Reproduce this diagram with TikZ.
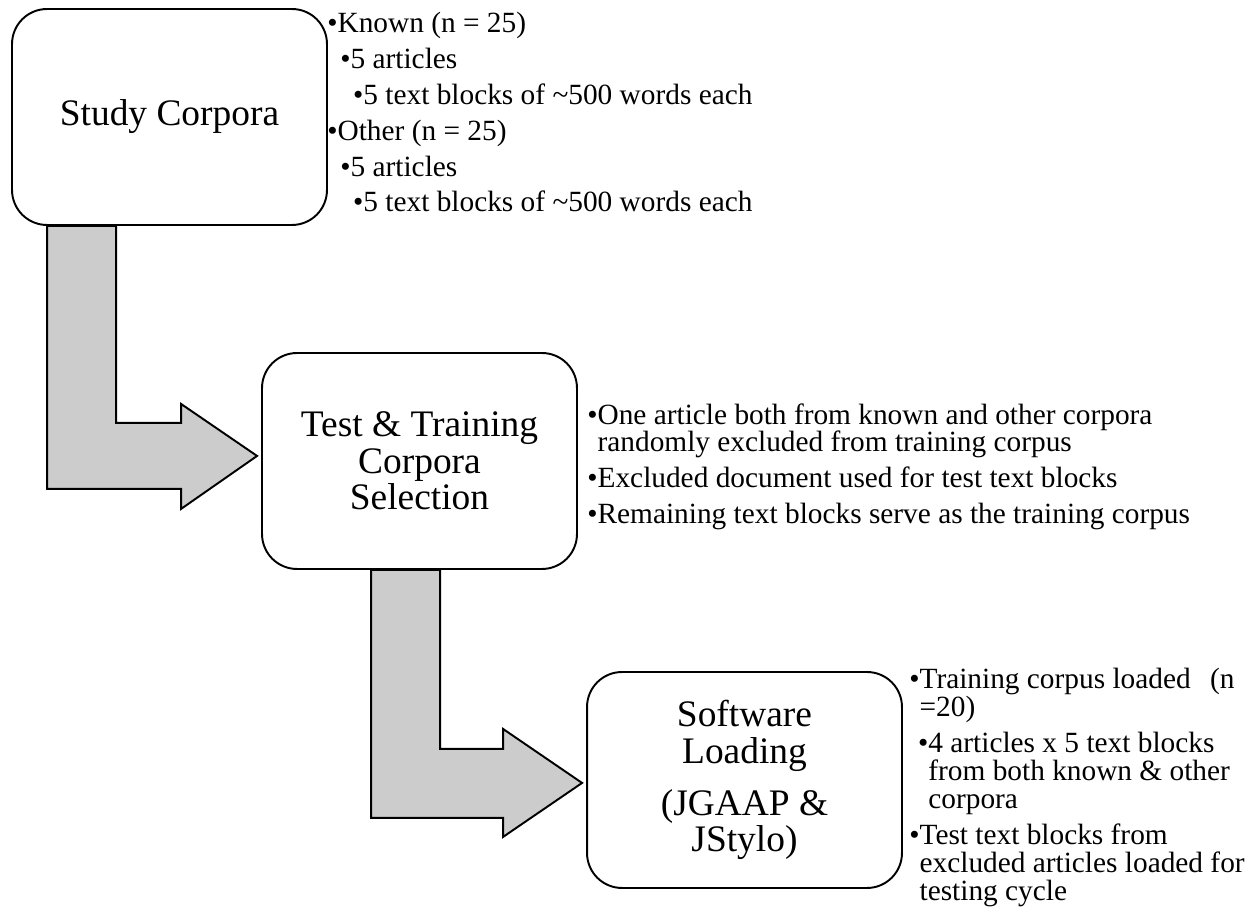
\documentclass[tikz,border=0pt]{standalone}
\usepackage{fontspec}
\setmainfont{Liberation Serif}
\usetikzlibrary{calc}
\definecolor{arrowgray}{RGB}{204,204,204}

\begin{document}
\begin{tikzpicture}
    [
    x=0.02cm, y=-0.02cm,
    StepNode/.style={rectangle, draw=black, line width=1.1pt, rounded corners=0.7cm, minimum width=6.3cm, minimum height=4.32cm, align=center, font=\fontsize{21.3}{20.7}\selectfont},
    Tag/.style={anchor=north west, inner sep=0pt, align=left, font=\fontsize{16.7}{15.9}\selectfont},
    BlockArrow/.style={draw=black, line width=1.1pt, fill=arrowgray, line join=miter},
    ]

    \useasboundingbox (0,0) rectangle (1252,911);

    \node[StepNode] (n1) at (169.5,117) {Study Corpora};
    \node[StepNode] (n2) at (419.5,461) {Test \& Training\\Corpora\\Selection};
    \node[StepNode] (n3) at (744.5,780) {Software\\Loading\\[9pt](JGAAP \&\\JStylo)};

    % bent arrows between the steps
    \draw[BlockArrow] ($(n1.south west)+(36,0)$) -- ++(0,263) -- ++(134,0) -- ++(0,20) -- ++(76,-53) -- ++(-76,-52) -- ++(0,19) -- ++(-65,0) -- ++(0,-197) -- cycle;
    \draw[BlockArrow] ($(n2.south west)+(110,0)$) -- ++(0,248) -- ++(132,0) -- ++(0,19) -- ++(79,-54) -- ++(-79,-54) -- ++(0,20) -- ++(-63,0) -- ++(0,-179) -- cycle;

    \node[Tag] (tag1) at (327,12) {•Known (n = 25)\\[4.5pt]
        \hspace*{7.4pt}•5 articles\\[4.5pt]
        \hspace*{14.7pt}•5 text blocks of \textasciitilde500 words each\\[4.5pt]
        •Other (n = 25)\\[4.5pt]
        \hspace*{7.4pt}•5 articles\\[4.5pt]
        \hspace*{14.7pt}•5 text blocks of \textasciitilde500 words each};

    \node[Tag] (tag2) at (587,403) {•One article both from known and other corpora\\
        \hphantom{•}randomly excluded from training corpus\\[4.5pt]
        •Excluded document used for test text blocks\\[4.5pt]
        •Remaining text blocks serve as the training corpus};

    \node[Tag] (tag3) at (909,668) {•Training corpus loaded\hspace{11pt}(n\\
        \hphantom{•}=20)\\[4.5pt]
        \hspace*{5pt}•4 articles x 5 text blocks\\
        \hspace*{5pt}\hphantom{•}from both known \& other\\
        \hspace*{5pt}\hphantom{•}corpora\\[4.5pt]
        •Test text blocks from\\
        \hphantom{•}excluded articles loaded for\\
        \hphantom{•}testing cycle};

\end{tikzpicture}
\end{document}
